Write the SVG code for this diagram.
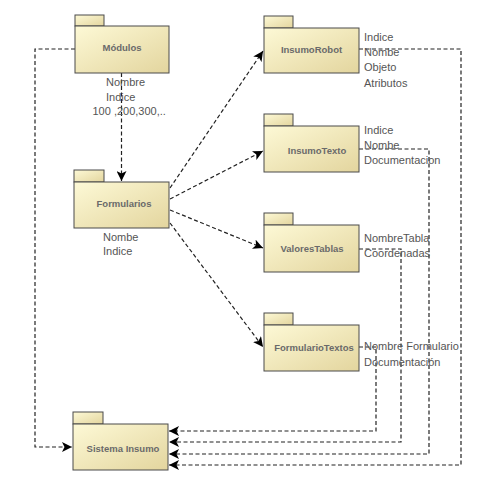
<svg xmlns="http://www.w3.org/2000/svg" width="481" height="482" viewBox="0 0 481 482">
<style>
.tab,.body{fill:url(#pkg);stroke:#4a4a4a;stroke-width:1}
.title{font-family:"Liberation Sans",Arial,sans-serif;font-size:9.5px;font-weight:bold;fill:#6a6a6a;text-anchor:middle}
.lbl{font-family:"Liberation Sans",Arial,sans-serif;font-size:11px;fill:#555}
.con{fill:none;stroke:#222;stroke-width:1.2;stroke-dasharray:4,2.5;marker-end:url(#arr)}
</style>
<defs>
<linearGradient id="pkg" x1="0" y1="0" x2="1" y2="1">
<stop offset="0" stop-color="#fdf9d6"/>
<stop offset="1" stop-color="#e3d59e"/>
</linearGradient>
<marker id="arr" markerUnits="userSpaceOnUse" markerWidth="12" markerHeight="10" refX="10" refY="5" orient="auto">
<path d="M0,0 L10,5 L0,10 L2.5,5 Z" fill="#000"/>
</marker>
</defs>
<rect width="481" height="482" fill="#fff"/>
<g id="connectors">
<path class="con" d="M75,49 H35 V447 H72"/>
<path class="con" d="M121.5,73 V181"/>
<path class="con" d="M170,188 L263,51"/>
<path class="con" d="M170,199 L263,151"/>
<path class="con" d="M170,210 L263,248"/>
<path class="con" d="M170,223 L263,347"/>
<path class="con" d="M359,49 H461 V465 H169"/>
<path class="con" d="M359,149 H429 V454 H169"/>
<path class="con" d="M359,249 H401 V442 H169"/>
<path class="con" d="M359,347 H376 V431 H169"/>
</g>
<g id="modulos">
<rect class="tab" x="75" y="15" width="29" height="11"/>
<rect class="body" x="75" y="26" width="94" height="47"/>
<text class="title" x="122" y="51">Módulos</text>
<text class="lbl" x="106" y="86">Nombre</text>
<text class="lbl" x="106" y="100.5">Indice</text>
<text class="lbl" x="92.5" y="115">100 ,200,300,..</text>
</g>
<g id="formularios">
<rect class="tab" x="74" y="170" width="30" height="12"/>
<rect class="body" x="74" y="182" width="95" height="46"/>
<text class="title" x="124" y="207">Formularios</text>
<text class="lbl" x="103" y="240.5">Nombe</text>
<text class="lbl" x="103" y="254.5">Indice</text>
</g>
<g id="insumorobot">
<rect class="tab" x="264" y="16" width="29" height="12"/>
<rect class="body" x="264" y="28" width="95" height="45"/>
<text class="title" x="311.5" y="53">InsumoRobot</text>
<text class="lbl" x="364" y="40.5">Indice</text>
<text class="lbl" x="364" y="56">Nombe</text>
<text class="lbl" x="364" y="71">Objeto</text>
<text class="lbl" x="364" y="86.5">Atributos</text>
</g>
<g id="insumotexto">
<rect class="tab" x="264" y="114" width="29" height="12"/>
<rect class="body" x="264" y="126" width="95" height="46"/>
<text class="title" x="317" y="153.5">InsumoTexto</text>
<text class="lbl" x="364" y="133.5">Indice</text>
<text class="lbl" x="364" y="148.5">Nombe</text>
<text class="lbl" x="364" y="164">Documentacion</text>
</g>
<g id="valorestablas">
<rect class="tab" x="264" y="213" width="29" height="12"/>
<rect class="body" x="264" y="225" width="95" height="47"/>
<text class="title" x="312" y="251.5">ValoresTablas</text>
<text class="lbl" x="364" y="241.5">NombreTabla</text>
<text class="lbl" x="364" y="257">Coordenadas</text>
</g>
<g id="formulariotextos">
<rect class="tab" x="264" y="313" width="29" height="12"/>
<rect class="body" x="264" y="325" width="95" height="46"/>
<text class="title" x="314" y="351">FormularioTextos</text>
<text class="lbl" x="364" y="349.5">Nombre Formulario</text>
<text class="lbl" x="364" y="365.5">Documentación</text>
</g>
<g id="sistemainsumo">
<rect class="tab" x="73" y="412" width="30" height="12"/>
<rect class="body" x="73" y="424" width="95" height="46"/>
<text class="title" x="123" y="452">Sistema Insumo</text>
</g>
</svg>
